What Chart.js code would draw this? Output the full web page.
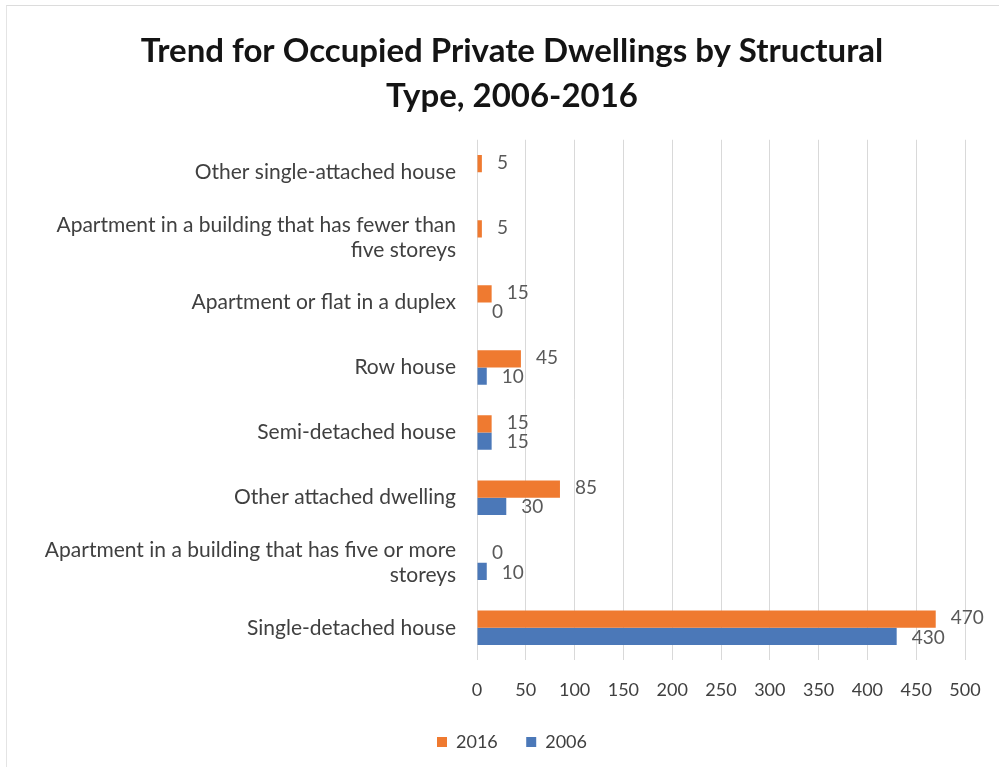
<!DOCTYPE html>
<html>
<head>
<meta charset="utf-8">
<script src="https://cdn.jsdelivr.net/npm/chart.js@4"></script>
<style>
  html, body { margin: 0; padding: 0; background: #fff; }
  #wrap { position: relative; width: 999px; height: 773px; }
  #wrap::before {
    content: ""; position: absolute; left: 6px; top: 5px; right: 0; bottom: 6px;
    border-top: 1px solid #dcdcdc; border-left: 1px solid #e4e4e4;
    pointer-events: none;
  }
  canvas { display: block; }
</style>
</head>
<body>
<div id="wrap"><canvas id="dwellingChart" width="999" height="773"></canvas></div>
<script>
  const categories = [
    "Other single-attached house",
    ["Apartment in a building that has fewer than", "five storeys"],
    "Apartment or flat in a duplex",
    "Row house",
    "Semi-detached house",
    "Other attached dwelling",
    ["Apartment in a building that has five or more", "storeys"],
    "Single-detached house"
  ];
  const values2016 = [5, 5, 15, 45, 15, 85, 0, 470];
  const values2006 = [null, null, 0, 10, 15, 30, 10, 430];
  const axisTicks = [0, 50, 100, 150, 200, 250, 300, 350, 400, 450, 500];

  const ORANGE = '#ef7a30';
  const BLUE = '#4b78b8';
  const FONT = 'Lato, "Open Sans", sans-serif';

  // value labels just past the end of each bar
  const barValueLabels = {
    id: 'barValueLabels',
    afterDatasetsDraw(chart) {
      const ctx = chart.ctx;
      ctx.save();
      ctx.font = '19px ' + FONT;
      ctx.fillStyle = '#595959';
      ctx.textAlign = 'left';
      ctx.textBaseline = 'middle';
      chart.data.datasets.forEach((ds, di) => {
        const meta = chart.getDatasetMeta(di);
        meta.data.forEach((bar, i) => {
          const v = ds.data[i];
          if (v === null || v === undefined) return;
          const dy = di === 0 ? -1 : 1;
          ctx.fillText(String(v), bar.x + 15, bar.y + dy);
        });
      });
      ctx.restore();
    }
  };

  const ctx = document.getElementById('dwellingChart').getContext('2d');
  new Chart(ctx, {
    type: 'bar',
    data: {
      labels: categories,
      datasets: [
        { label: '2016', data: values2016, backgroundColor: ORANGE, barPercentage: 1, categoryPercentage: 0.53 },
        { label: '2006', data: values2006, backgroundColor: BLUE, barPercentage: 1, categoryPercentage: 0.53 }
      ]
    },
    options: {
      indexAxis: 'y',
      responsive: false,
      animation: false,
      layout: { padding: { top: 29, right: 5, bottom: 12, left: 30 } },
      scales: {
        x: {
          min: 0,
          max: 500,
          afterBuildTicks(axis) { axis.ticks = axisTicks.map(v => ({ value: v })); },
          // keep the plot's right edge clear of the narrow outer padding
          afterFit(axis) { axis.paddingRight = 34; axis.height += 3; },
          grid: { color: '#d9d9d9', drawTicks: false },
          border: { display: false },
          ticks: { font: { family: FONT, size: 18 }, color: '#404040', padding: 19 }
        },
        y: {
          grid: { display: false, drawTicks: false },
          border: { display: false },
          afterFit(axis) { axis.width = 447; },
          ticks: { font: { family: FONT, size: 21 }, color: '#404040', padding: 21, autoSkip: false }
        }
      },
      plugins: {
        title: {
          display: true,
          text: ['Trend for Occupied Private Dwellings by Structural', 'Type, 2006-2016'],
          font: { family: FONT, size: 33, weight: 'bold', lineHeight: 1.36 },
          color: '#141414',
          padding: { top: 0, bottom: 21 }
        },
        legend: {
          position: 'bottom',
          labels: {
            font: { family: FONT, size: 18 },
            color: '#404040',
            boxWidth: 10,
            boxHeight: 10,
            padding: 10,
            // widen the gap after the first entry without growing the legend's height
            generateLabels(chart) {
              const items = Chart.defaults.plugins.legend.labels.generateLabels(chart);
              items.forEach((item, i) => {
                if (i < items.length - 1) item.text = item.text + '    ';
              });
              return items;
            }
          }
        },
        tooltip: { enabled: false }
      }
    },
    plugins: [barValueLabels]
  });
</script>
</body>
</html>
